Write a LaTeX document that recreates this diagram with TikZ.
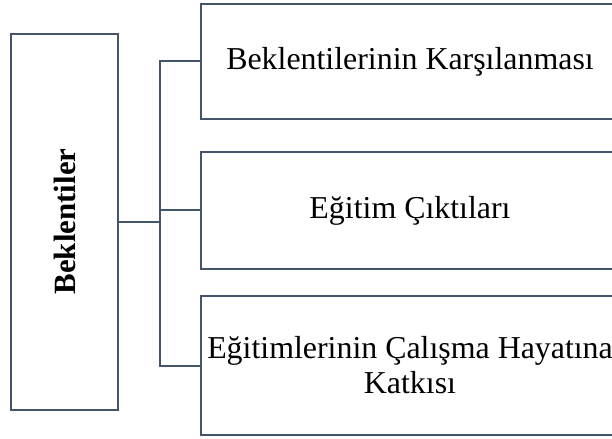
\documentclass[tikz,border=0pt]{standalone}
\usepackage{fontspec}
\setmainfont{Liberation Serif}
\definecolor{edge}{HTML}{44546A}
\begin{document}
\begin{tikzpicture}[x=1bp,y=-1bp,
  box/.style={draw=edge,line width=2bp,rectangle,inner sep=0pt,align=center,
    font=\fontsize{32}{35}\selectfont},
  link/.style={draw=edge,line width=2bp}]
\useasboundingbox (0,0) rectangle (612,439);
\node[box,minimum width=107bp,minimum height=376bp] (L) at (64.5,222) {};
\node[rotate=90,font=\fontsize{31}{35}\selectfont\bfseries,inner sep=0pt] (Lt) at (65,221.5) {Beklentiler};
\node[box,minimum width=418bp,minimum height=115bp] (B1) at (410,61.5) {Beklentilerinin Karşılanması};
\node[box,minimum width=418bp,minimum height=117bp] (B2) at (410,210.5) {Eğitim Çıktıları};
\node[box,minimum width=418bp,minimum height=139bp] (B3) at (410,365.5) {Eğitimlerinin Çalışma Hayatına\\Katkısı};
\coordinate (J) at (160,222);
\draw[link] (L.east) -- (J);
\draw[link] (J) |- (B1.west);
\draw[link] (J) |- (B2.west);
\draw[link] (J) |- (B3.west);
\end{tikzpicture}
\end{document}
